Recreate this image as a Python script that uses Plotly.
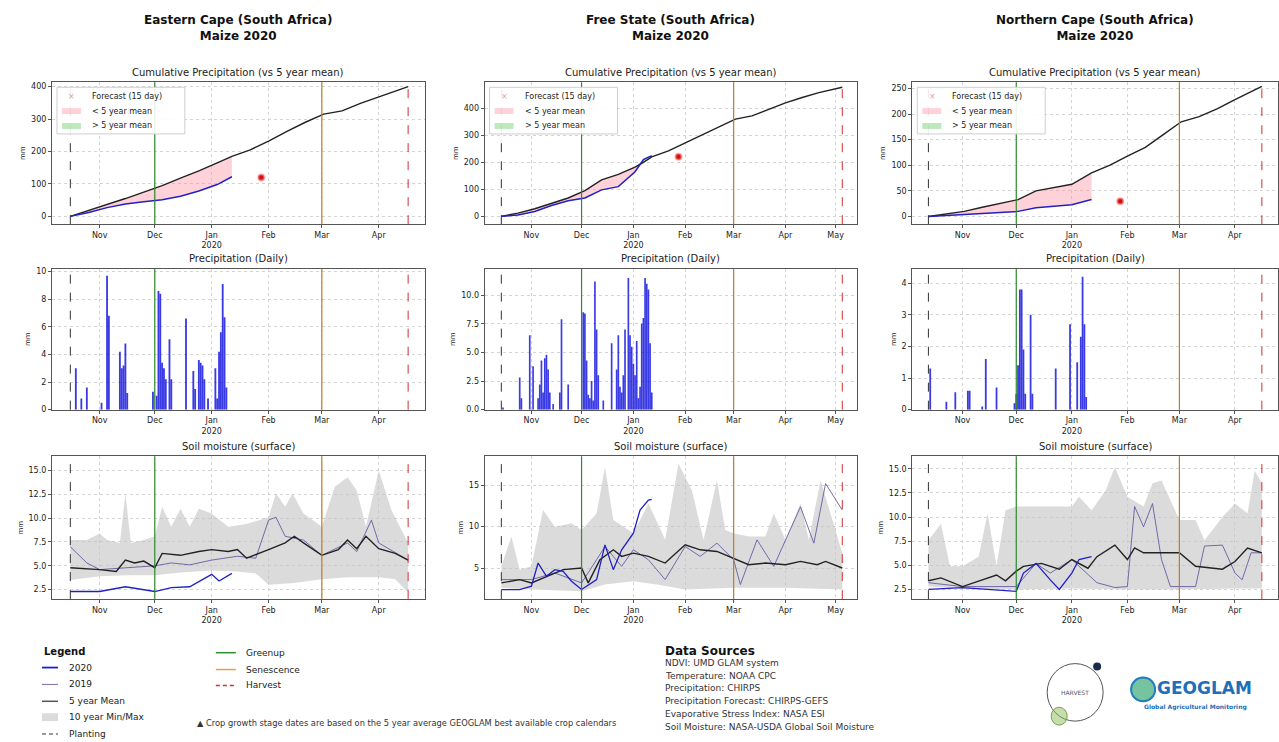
import numpy as np
import plotly.graph_objects as go


def sd(md):
    """Season date: 'MM-DD' -> ISO date (Oct-Dec = 2019, Jan-May = 2020)."""
    m = int(md[:2])
    return ("2019-" if m >= 7 else "2020-") + md


def sds(lst):
    return [sd(v) for v in lst]


# ---------------- titles / crop calendar ----------------
regions = ["Eastern Cape (South Africa)", "Free State (South Africa)", "Northern Cape (South Africa)"]
crop_title = "Maize 2020"
row_titles = ["Cumulative Precipitation (vs 5 year mean)", "Precipitation (Daily)", "Soil moisture (surface)"]
cum_legend_labels = ["Forecast (15 day)", "< 5 year mean", "> 5 year mean"]

planting_dates = ["10-16", "10-14", "10-13"]
greenup_dates = ["12-01", "12-01", "12-01"]
senescence_dates = ["03-01", "03-01", "03-01"]
harvest_dates = ["04-17", "05-05", "04-16"]

month_ticks_short = ["11-01", "12-01", "01-01", "02-01", "03-01", "04-01"]
month_labels_short = ["Nov", "Dec", "Jan<br>2020", "Feb", "Mar", "Apr"]
month_ticks_long = month_ticks_short + ["05-01"]
month_labels_long = month_labels_short + ["May"]

# ---------------- Eastern Cape ----------------
ec_cum_dates = ["10-16", "10-26", "11-05", "11-15", "11-25", "12-05", "12-15", "12-25", "01-04", "01-12",
                "01-22", "02-01", "02-11", "02-21", "03-02", "03-12", "03-22", "04-01", "04-11", "04-17"]
ec_cum_mean = [0, 18, 35, 55, 75, 95, 118, 140, 165, 185, 205, 232, 262, 290, 315, 325, 348, 368, 388, 400]
ec_cum_2020 = [0, 12, 27, 38, 45, 51, 62, 78, 98, 122]
ec_forecast = ("01-28", 120)

ec_rain_dates = ["10-19", "10-22", "10-25", "11-02", "11-05", "11-06", "11-12", "11-13", "11-14", "11-15",
                 "11-16", "11-30", "12-02", "12-03", "12-04", "12-05", "12-06", "12-07", "12-09", "12-10",
                 "12-18", "12-22", "12-23", "12-25", "12-26", "12-27", "12-28", "12-30", "01-03", "01-04",
                 "01-05", "01-06", "01-07", "01-08", "01-09"]
ec_rain = [3.0, 0.8, 1.6, 0.5, 9.7, 6.8, 4.2, 3.0, 3.2, 4.8, 1.2, 1.3, 1.0, 8.6, 8.4, 3.4, 3.0, 2.2, 5.1, 2.2,
           6.6, 2.8, 1.5, 3.6, 3.4, 3.2, 2.2, 0.8, 3.0, 0.8, 4.2, 5.6, 9.1, 6.7, 1.6]

ec_sm_max_dates = ["10-16", "10-25", "11-01", "11-05", "11-12", "11-15", "11-18", "11-25", "12-01", "12-05",
                   "12-10", "12-15", "12-20", "12-25", "01-01", "01-10", "01-20", "02-01", "02-05", "02-10",
                   "02-14", "02-20", "03-01", "03-08", "03-15", "03-20", "03-25", "04-01", "04-08", "04-17"]
ec_sm_max = [7.7, 7.7, 8.4, 7.7, 7.4, 12.6, 7.4, 7.7, 8.1, 11.2, 9.1, 11.0, 9.1, 11.0, 10.5, 9.1, 9.4, 10.1,
             12.6, 11.2, 12.6, 10.5, 9.1, 13.3, 14.3, 12.9, 9.1, 15.0, 10.8, 7.4]
ec_sm_min_dates = ["10-16", "11-01", "11-15", "12-01", "12-15", "01-01", "01-15", "01-25", "02-01", "02-15",
                   "03-01", "03-15", "04-01", "04-10", "04-17"]
ec_sm_min = [3.5, 3.9, 4.0, 4.0, 4.3, 4.5, 4.4, 4.2, 3.0, 3.2, 3.6, 3.8, 3.8, 3.6, 2.2]
ec_sm_mean_dates = ["10-16", "11-01", "11-10", "11-15", "11-20", "11-25", "12-01", "12-05", "12-15", "12-25",
                    "01-01", "01-10", "01-15", "01-20", "02-01", "02-10", "02-15", "02-20", "03-01", "03-10",
                    "03-15", "03-20", "03-25", "04-01", "04-10", "04-17"]
ec_sm_mean = [4.8, 4.6, 4.4, 5.6, 5.3, 5.5, 4.8, 6.3, 6.1, 6.5, 6.7, 6.5, 6.7, 5.8, 6.7, 7.4, 8.1, 7.4, 6.1,
              6.7, 7.7, 6.8, 8.1, 6.8, 6.3, 5.6]
ec_sm_2020_dates = ["10-16", "11-01", "11-15", "12-01", "12-10", "12-20", "01-01", "01-05", "01-12"]
ec_sm_2020 = [2.3, 2.3, 2.8, 2.3, 2.7, 2.8, 4.1, 3.4, 4.2]
ec_sm_2019_dates = ["10-16", "10-25", "11-01", "12-01", "12-10", "12-20", "01-01", "01-15", "01-25", "02-01",
                    "02-05", "02-10", "02-20", "03-01", "03-15", "03-20", "03-28", "04-01", "04-17"]
ec_sm_2019 = [7.0, 5.3, 4.6, 5.0, 5.3, 5.1, 5.6, 6.0, 5.8, 9.8, 10.1, 8.1, 7.7, 6.1, 7.4, 6.5, 9.8, 7.4, 5.6]

# ---------------- Free State ----------------
fs_cum_dates = ["10-14", "10-24", "11-03", "11-13", "11-23", "12-03", "12-13", "12-23", "01-02", "01-07",
                "01-12", "01-22", "02-01", "02-11", "02-21", "03-02", "03-12", "03-22", "04-01", "04-11",
                "04-21", "05-05"]
fs_cum_mean = [0, 12, 28, 48, 68, 95, 135, 155, 182, 200, 220, 242, 272, 300, 330, 360, 372, 395, 420, 440,
               458, 478]
fs_cum_2020 = [0, 5, 18, 40, 58, 68, 98, 110, 165, 210, 225]
fs_forecast = ("01-28", 221)

fs_rain_dates = ["10-15", "10-25", "10-26", "10-31", "11-02", "11-05", "11-06", "11-07", "11-08", "11-09",
                 "11-10", "11-11", "11-12", "11-14", "11-18", "11-19", "11-23", "12-02", "12-03", "12-04",
                 "12-05", "12-06", "12-07", "12-08", "12-09", "12-10", "12-11", "12-14", "12-19", "12-22",
                 "12-23", "12-24", "12-25", "12-26", "12-27", "12-29", "12-30", "12-31", "01-01", "01-02",
                 "01-03", "01-04", "01-05", "01-06", "01-07", "01-08", "01-09", "01-10", "01-11", "01-12"]
fs_rain = [0.2, 2.8, 1.0, 6.5, 3.8, 1.0, 2.2, 4.3, 1.5, 4.5, 4.8, 3.5, 1.5, 0.5, 1.5, 7.9, 2.2, 8.5, 8.4, 4.3,
           1.3, 1.0, 2.5, 0.8, 11.2, 7.0, 3.0, 0.8, 5.8, 3.5, 6.5, 2.0, 1.5, 3.0, 7.0, 11.5, 6.5, 5.5, 4.0,
           3.0, 6.0, 1.0, 2.0, 7.5, 8.0, 11.5, 11.0, 10.5, 5.8, 1.5]

fs_sm_max_dates = ["10-14", "10-20", "10-25", "11-01", "11-08", "11-15", "11-25", "12-01", "12-10", "12-15",
                   "12-20", "01-01", "01-10", "01-20", "01-28", "02-05", "02-12", "02-20", "02-25", "03-01",
                   "03-10", "03-20", "03-25", "04-01", "04-10", "04-15", "04-22", "05-05"]
fs_sm_max = [5.2, 8.8, 4.8, 5.2, 12.0, 10.0, 10.4, 9.6, 11.6, 17.2, 10.8, 9.2, 12.8, 8.4, 17.6, 14.4, 8.4,
             15.6, 9.6, 9.2, 8.8, 8.8, 11.6, 8.4, 12.8, 8.4, 15.6, 6.8]
fs_sm_min_dates = ["10-14", "11-01", "12-01", "12-15", "01-01", "01-15", "02-01", "03-01", "04-01", "05-05"]
fs_sm_min = [2.6, 2.4, 2.2, 3.0, 3.4, 3.0, 2.4, 2.6, 2.6, 2.4]
fs_sm_mean_dates = ["10-14", "10-25", "11-01", "11-10", "11-20", "12-01", "12-05", "12-12", "12-20", "12-25",
                    "01-01", "01-10", "01-20", "02-01", "02-10", "02-20", "03-01", "03-10", "03-20", "04-01",
                    "04-10", "04-20", "04-25", "05-05"]
fs_sm_mean = [3.2, 3.6, 3.2, 4.0, 4.8, 5.0, 3.2, 6.0, 7.2, 6.4, 6.8, 6.4, 5.6, 7.8, 7.2, 7.0, 6.2, 5.4, 5.6,
              5.4, 5.8, 5.4, 5.8, 5.0]
fs_sm_2020_dates = ["10-14", "10-25", "11-01", "11-05", "11-10", "11-15", "11-20", "11-25", "12-01", "12-10",
                    "12-15", "12-20", "12-25", "01-01", "01-05", "01-10", "01-12"]
fs_sm_2020 = [2.4, 2.4, 2.8, 5.6, 4.0, 4.8, 4.6, 3.4, 2.4, 3.6, 7.8, 4.8, 7.2, 9.2, 12.0, 13.2, 13.3]
fs_sm_2019_dates = ["10-14", "11-01", "11-15", "12-01", "12-10", "12-15", "12-20", "12-25", "01-01", "01-10",
                    "01-20", "02-01", "02-10", "02-20", "03-01", "03-05", "03-15", "03-25", "04-10", "04-18",
                    "04-25", "05-05"]
fs_sm_2019 = [3.6, 3.6, 4.4, 3.2, 6.0, 7.6, 6.4, 5.2, 7.2, 6.0, 3.6, 7.6, 6.4, 8.0, 6.0, 3.0, 8.4, 5.2, 12.4,
              8.0, 15.2, 12.0]

# ---------------- Northern Cape ----------------
nc_cum_dates = ["10-13", "10-23", "11-02", "11-12", "11-22", "12-02", "12-12", "12-22", "01-01", "01-12",
                "01-22", "02-01", "02-11", "02-21", "03-02", "03-12", "03-22", "04-01", "04-16"]
nc_cum_mean = [0, 5, 10, 18, 25, 33, 50, 57, 63, 85, 100, 118, 135, 160, 185, 195, 210, 228, 254]
nc_cum_2020 = [0, 2, 3, 5, 8, 10, 17, 20, 23, 33]
nc_forecast = ("01-28", 30)

nc_rain_dates = ["10-14", "10-23", "10-28", "11-04", "11-05", "11-12", "11-14", "11-20", "11-30", "12-01",
                 "12-02", "12-03", "12-04", "12-05", "12-06", "12-09", "12-10", "12-23", "12-31", "01-04",
                 "01-06", "01-07", "01-08", "01-09"]
nc_rain = [1.3, 0.25, 0.55, 0.6, 0.6, 0.1, 1.6, 0.7, 0.2, 0.5, 1.4, 3.8, 3.8, 1.9, 0.5, 3.0, 0.5, 1.3, 2.7,
           1.5, 2.3, 4.2, 2.7, 0.4]

nc_sm_max_dates = ["10-13", "10-20", "10-25", "11-01", "11-10", "11-15", "11-20", "11-25", "12-01", "12-15",
                   "01-01", "01-05", "01-12", "01-20", "01-25", "02-01", "02-10", "02-15", "02-20", "03-01",
                   "03-10", "03-15", "03-25", "04-01", "04-08", "04-12", "04-16"]
nc_sm_max = [7.6, 9.3, 4.9, 4.9, 5.9, 10.4, 4.9, 10.7, 11.1, 11.1, 11.1, 12.1, 10.7, 12.8, 15.2, 12.1, 11.1,
             13.5, 13.8, 9.7, 9.7, 7.6, 10.0, 11.4, 10.4, 14.8, 13.5]
nc_sm_min_dates = ["10-13", "11-01", "12-01", "01-01", "02-01", "03-01", "04-01", "04-16"]
nc_sm_min = [2.8, 2.6, 2.5, 2.6, 2.5, 2.5, 2.6, 2.6]
nc_sm_mean_dates = ["10-13", "10-20", "11-01", "11-10", "11-20", "11-25", "12-01", "12-05", "12-15", "12-25",
                    "01-01", "01-10", "01-15", "01-25", "02-01", "02-05", "02-10", "03-01", "03-10", "03-20",
                    "03-25", "04-01", "04-08", "04-16"]
nc_sm_mean = [3.4, 3.7, 2.8, 3.4, 4.0, 3.4, 4.4, 4.9, 5.2, 4.6, 5.6, 4.7, 5.9, 7.1, 5.6, 6.8, 6.3, 6.3, 4.9,
              4.7, 4.6, 5.4, 6.8, 6.3]
nc_sm_2020_dates = ["10-13", "11-01", "11-15", "12-01", "12-05", "12-12", "12-20", "12-25", "01-01", "01-05",
                    "01-12"]
nc_sm_2020 = [2.5, 2.7, 2.5, 2.3, 4.2, 5.2, 3.5, 2.5, 4.2, 5.6, 5.9]
nc_sm_2019_dates = ["10-13", "11-01", "12-01", "12-12", "12-20", "01-01", "01-15", "01-25", "02-01", "02-05",
                    "02-10", "02-15", "02-20", "02-25", "03-10", "03-15", "03-25", "04-01", "04-05", "04-10",
                    "04-16"]
nc_sm_2019 = [3.2, 2.8, 2.8, 5.2, 4.2, 5.6, 3.2, 2.7, 2.8, 11.1, 9.0, 11.4, 5.6, 2.8, 2.8, 7.0, 7.1, 4.2, 3.5,
              6.3, 6.3]

data_sources = ["NDVI: UMD GLAM system", "Temperature: NOAA CPC", "Precipitation: CHIRPS",
                "Precipitation Forecast: CHIRPS-GEFS", "Evaporative Stress Index: NASA ESI",
                "Soil Moisture: NASA-USDA Global Soil Moisture"]
footnote = "\u25b2 Crop growth stage dates are based on the 5 year average GEOGLAM best available crop calendars"

# ---------------- grouping ----------------
cum_dates = [ec_cum_dates, fs_cum_dates, nc_cum_dates]
cum_mean = [ec_cum_mean, fs_cum_mean, nc_cum_mean]
cum_2020 = [ec_cum_2020, fs_cum_2020, nc_cum_2020]
forecasts = [ec_forecast, fs_forecast, nc_forecast]
rain_dates = [ec_rain_dates, fs_rain_dates, nc_rain_dates]
rain_vals = [ec_rain, fs_rain, nc_rain]
sm = [
    dict(maxd=ec_sm_max_dates, maxv=ec_sm_max, mind=ec_sm_min_dates, minv=ec_sm_min,
         meand=ec_sm_mean_dates, meanv=ec_sm_mean, d20=ec_sm_2020_dates, v20=ec_sm_2020,
         d19=ec_sm_2019_dates, v19=ec_sm_2019),
    dict(maxd=fs_sm_max_dates, maxv=fs_sm_max, mind=fs_sm_min_dates, minv=fs_sm_min,
         meand=fs_sm_mean_dates, meanv=fs_sm_mean, d20=fs_sm_2020_dates, v20=fs_sm_2020,
         d19=fs_sm_2019_dates, v19=fs_sm_2019),
    dict(maxd=nc_sm_max_dates, maxv=nc_sm_max, mind=nc_sm_min_dates, minv=nc_sm_min,
         meand=nc_sm_mean_dates, meanv=nc_sm_mean, d20=nc_sm_2020_dates, v20=nc_sm_2020,
         d19=nc_sm_2019_dates, v19=nc_sm_2019),
]

# ---------------- layout geometry (pixels) ----------------
W, H = 1279, 742
col_px = [(52, 425), (485, 858), (913, 1279)]
row_px = [(82, 225), (270, 412), (459, 603)]
x_ranges = [("2019-10-06", "2020-04-26"), ("2019-10-04", "2020-05-14"), ("2019-10-04", "2020-04-25")]
y_ranges = [
    [(-24, 413), (-29, 496), (-15, 262)],
    [(0, 10.2), (0, 12.3), (0, 4.45)],
    [(1.5, 16.5), (1.24, 18.5), (1.5, 16.3)],
]
y_ticks = [
    [[0, 100, 200, 300, 400], [0, 100, 200, 300, 400], [0, 50, 100, 150, 200, 250]],
    [[0, 2, 4, 6, 8, 10], [0, 2.5, 5, 7.5, 10], [0, 1, 2, 3, 4]],
    [[2.5, 5, 7.5, 10, 12.5, 15], [5, 10, 15], [2.5, 5, 7.5, 10, 12.5, 15]],
]
y_ticktext = [
    [None, None, None],
    [None, ["0.0", "2.5", "5.0", "7.5", "10.0"], None],
    [["2.5", "5.0", "7.5", "10.0", "12.5", "15.0"], None, ["2.5", "5.0", "7.5", "10.0", "12.5", "15.0"]],
]

FONT = "DejaVu Sans"
C2020 = "#2020c4"
C2019 = "rgba(95,85,160,0.85)"
CMEAN = "#222222"
BAND = "rgba(195,195,195,0.6)"
PINK = "rgba(255,140,160,0.4)"
GREEN = "rgba(90,200,90,0.4)"
C_GREEN = "#2e8b2e"
C_SEN = "#b8802a"
C_HARV = "#d03030"
C_PLANT = "#333333"


def px_x(x):
    return x / W


def px_y(y):
    return 1 - y / H


fig = go.Figure()
layout = dict(width=W, height=H, autosize=False, margin=dict(l=0, r=0, t=0, b=0),
              paper_bgcolor="white", plot_bgcolor="white", barmode="overlay",
              font=dict(family=FONT, size=9, color="#222"), showlegend=False)
shapes = []
annotations = []


def ax_names(r, c):
    idx = r * 3 + c + 1
    s = "" if idx == 1 else str(idx)
    return idx, "x" + s, "y" + s, "xaxis" + s, "yaxis" + s


def ptext(text, x, y, size, color="#222", anchor="left"):
    annotations.append(dict(text=text, xref="paper", yref="paper", x=px_x(x), y=px_y(y),
                            xanchor=anchor, yanchor="middle", showarrow=False,
                            font=dict(size=size, color=color)))


def pline(x0, x1, y, color, width=1.0, dash="solid"):
    shapes.append(dict(type="line", xref="paper", yref="paper", x0=px_x(x0), x1=px_x(x1),
                       y0=px_y(y), y1=px_y(y), line=dict(color=color, width=width, dash=dash)))


def prect(x0, x1, y0, y1, fill, line_color=None):
    shapes.append(dict(type="rect", xref="paper", yref="paper", x0=px_x(x0), x1=px_x(x1),
                       y0=px_y(y1), y1=px_y(y0), fillcolor=fill,
                       line=dict(width=1 if line_color else 0, color=line_color or fill)))


for c in range(3):
    for r in range(3):
        idx, xr, yr, xk, yk = ax_names(r, c)
        ticks_md = month_ticks_long if c == 1 else month_ticks_short
        labels = month_labels_long if c == 1 else month_labels_short
        layout[xk] = dict(
            domain=[px_x(col_px[c][0]), px_x(col_px[c][1])], anchor=yr, type="date",
            range=list(x_ranges[c]), tickvals=sds(ticks_md), ticktext=labels,
            tickfont=dict(size=8), showgrid=True, gridcolor="#d4d4d4", griddash="dot", gridwidth=1,
            showline=True, mirror=True, linecolor="#555", linewidth=1, ticks="outside", ticklen=3,
            tickcolor="#555", zeroline=False, fixedrange=True)
        yt = dict(
            domain=[px_y(row_px[r][1]), px_y(row_px[r][0])], anchor=xr,
            range=list(y_ranges[r][c]), tickvals=y_ticks[r][c], tickfont=dict(size=8),
            showgrid=True, gridcolor="#d4d4d4", griddash="dot", gridwidth=1,
            showline=True, mirror=True, linecolor="#555", linewidth=1, ticks="outside", ticklen=3,
            tickcolor="#555", zeroline=False, fixedrange=True,
            title=dict(text="mm", font=dict(size=7), standoff=4))
        if y_ticktext[r][c] is not None:
            yt["ticktext"] = y_ticktext[r][c]
        layout[yk] = yt

        # crop calendar vertical lines
        for dlist, color, dash, width in [(planting_dates, C_PLANT, "dash", 1),
                                          (greenup_dates, C_GREEN, "solid", 1.2),
                                          (senescence_dates, C_SEN, "solid", 1.2),
                                          (harvest_dates, C_HARV, "dash", 1)]:
            shapes.append(dict(type="line", xref=xr, yref=yr + " domain", x0=sd(dlist[c]), x1=sd(dlist[c]),
                               y0=0, y1=1, line=dict(color=color, dash=dash, width=width), layer="above"))

        ptext(row_titles[r], (col_px[c][0] + col_px[c][1]) / 2, row_px[r][0] - 10, 10, anchor="center")

    # main title
    ptext("<b>" + regions[c] + "<br>" + crop_title + "</b>", (col_px[c][0] + col_px[c][1]) / 2, 27, 12,
          color="#111", anchor="center")

    # ---------- row 1: cumulative precipitation ----------
    idx, xr, yr, _, _ = ax_names(0, c)
    n = len(cum_2020[c])
    d_all = sds(cum_dates[c])
    d_sub = d_all[:n]
    mean_sub = np.array(cum_mean[c][:n], dtype=float)
    v20 = np.array(cum_2020[c], dtype=float)
    lower = np.minimum(v20, mean_sub)
    upper = np.maximum(v20, mean_sub)
    fig.add_trace(go.Scatter(x=d_sub, y=mean_sub, mode="lines", line=dict(width=0), xaxis=xr, yaxis=yr,
                             hoverinfo="skip"))
    fig.add_trace(go.Scatter(x=d_sub, y=lower, mode="lines", line=dict(width=0), fill="tonexty",
                             fillcolor=PINK, xaxis=xr, yaxis=yr, hoverinfo="skip"))
    fig.add_trace(go.Scatter(x=d_sub, y=mean_sub, mode="lines", line=dict(width=0), xaxis=xr, yaxis=yr,
                             hoverinfo="skip"))
    fig.add_trace(go.Scatter(x=d_sub, y=upper, mode="lines", line=dict(width=0), fill="tonexty",
                             fillcolor=GREEN, xaxis=xr, yaxis=yr, hoverinfo="skip"))
    fig.add_trace(go.Scatter(x=d_all, y=cum_mean[c], mode="lines", line=dict(color=CMEAN, width=1.4),
                             xaxis=xr, yaxis=yr))
    fig.add_trace(go.Scatter(x=d_sub, y=v20, mode="lines", line=dict(color=C2020, width=1.5),
                             xaxis=xr, yaxis=yr))
    fig.add_trace(go.Scatter(x=[sd(forecasts[c][0])], y=[forecasts[c][1]], mode="markers",
                             marker=dict(color="#d01010", size=6, line=dict(color="rgba(255,120,120,0.6)", width=2)),
                             xaxis=xr, yaxis=yr))
    # in-panel legend box (drawn manually)
    lx = col_px[c][0]
    ly = row_px[0][0]
    prect(lx + 5, lx + 133, ly + 5, ly + 52, "rgba(255,255,255,0.9)", "#cfcfcf")
    ptext("\u00d7", lx + 20, ly + 14, 8, color="rgba(200,110,110,0.7)", anchor="center")
    ptext(cum_legend_labels[0], lx + 38, ly + 14, 8)
    prect(lx + 10, lx + 29, ly + 26, ly + 32, PINK)
    ptext(cum_legend_labels[1], lx + 38, ly + 29, 8)
    prect(lx + 10, lx + 29, ly + 41, ly + 47, GREEN)
    ptext(cum_legend_labels[2], lx + 38, ly + 44, 8)

    # ---------- row 2: daily precipitation ----------
    idx, xr, yr, _, _ = ax_names(1, c)
    fig.add_trace(go.Bar(x=sds(rain_dates[c]), y=rain_vals[c], width=1.0 * 86400000,
                         marker=dict(color="rgba(10,10,220,0.8)", line=dict(width=0)),
                         xaxis=xr, yaxis=yr))

    # ---------- row 3: soil moisture ----------
    idx, xr, yr, _, _ = ax_names(2, c)
    s = sm[c]
    band_x = sds(s["maxd"]) + sds(s["mind"])[::-1]
    band_y = list(s["maxv"]) + list(s["minv"])[::-1]
    fig.add_trace(go.Scatter(x=band_x, y=band_y, mode="lines", fill="toself", fillcolor=BAND,
                             line=dict(width=0), xaxis=xr, yaxis=yr, hoverinfo="skip"))
    fig.add_trace(go.Scatter(x=sds(s["d19"]), y=s["v19"], mode="lines", line=dict(color=C2019, width=1),
                             xaxis=xr, yaxis=yr))
    fig.add_trace(go.Scatter(x=sds(s["meand"]), y=s["meanv"], mode="lines", line=dict(color=CMEAN, width=1.4),
                             xaxis=xr, yaxis=yr))
    fig.add_trace(go.Scatter(x=sds(s["d20"]), y=s["v20"], mode="lines", line=dict(color=C2020, width=1.3),
                             xaxis=xr, yaxis=yr))

# ---------------- bottom legend (manual) ----------------
ptext("<b>Legend</b>", 42, 656, 10, color="#111")
legend_items = [("2020", C2020, "solid", 1.8, 672), ("2019", C2019, "solid", 1.0, 689),
                ("5 year Mean", "#555", "solid", 1.5, 706), ("10 year Min/Max", None, None, None, 722),
                ("Planting", C_PLANT, "4px,3px", 1.2, 739)]
for label, color, dash, width, yy in legend_items:
    if color is None:
        prect(42, 58, yy - 4, yy + 4, BAND)
    else:
        pline(42, 58, yy, color, width, dash)
    ptext(label, 67, yy, 9)
stage_items = [("Greenup", C_GREEN, "solid", 657), ("Senescence", "#e0a050", "solid", 674),
               ("Harvest", C_HARV, "4px,3px", 690)]
for label, color, dash, yy in stage_items:
    pline(216, 236, yy, color, 1.5, dash)
    ptext(label, 244, yy, 9)
ptext(footnote, 195, 728, 8.3, color="#333")

# data sources
ptext("<b>Data Sources</b>", 664, 655, 12, color="#111")
for i, line in enumerate(data_sources):
    ptext(line, 664, 667 + 13 * i, 9, color="#333")

# logos
shapes.append(dict(type="circle", xref="paper", yref="paper", x0=px_x(1048), x1=px_x(1104),
                   y0=px_y(726), y1=px_y(668), line=dict(color="#555", width=1)))
shapes.append(dict(type="circle", xref="paper", yref="paper", x0=px_x(1094), x1=px_x(1102),
                   y0=px_y(675), y1=px_y(667), fillcolor="#1a2a4a", line=dict(width=0)))
shapes.append(dict(type="circle", xref="paper", yref="paper", x0=px_x(1052), x1=px_x(1068),
                   y0=px_y(730), y1=px_y(712), fillcolor="rgba(140,190,90,0.5)", line=dict(color="#7aa050", width=1)))
ptext("HARVEST", 1076, 697, 6, color="#556", anchor="center")
shapes.append(dict(type="circle", xref="paper", yref="paper", x0=px_x(1132), x1=px_x(1156),
                   y0=px_y(706), y1=px_y(682), fillcolor="rgba(60,170,120,0.7)", line=dict(color="#1e7bbf", width=2)))
ptext("<b>GEOGLAM</b>", 1156, 693, 17, color="#1e6fb8")
ptext("<b>Global Agricultural Monitoring</b>", 1196, 712, 6, color="#1e6fb8", anchor="center")

layout["shapes"] = shapes
layout["annotations"] = annotations
fig.update_layout(**layout)

fig.write_html("out.html", include_plotlyjs=True, config={"displayModeBar": False},
               post_script="document.body.style.margin='0';document.body.style.overflow='hidden';")
